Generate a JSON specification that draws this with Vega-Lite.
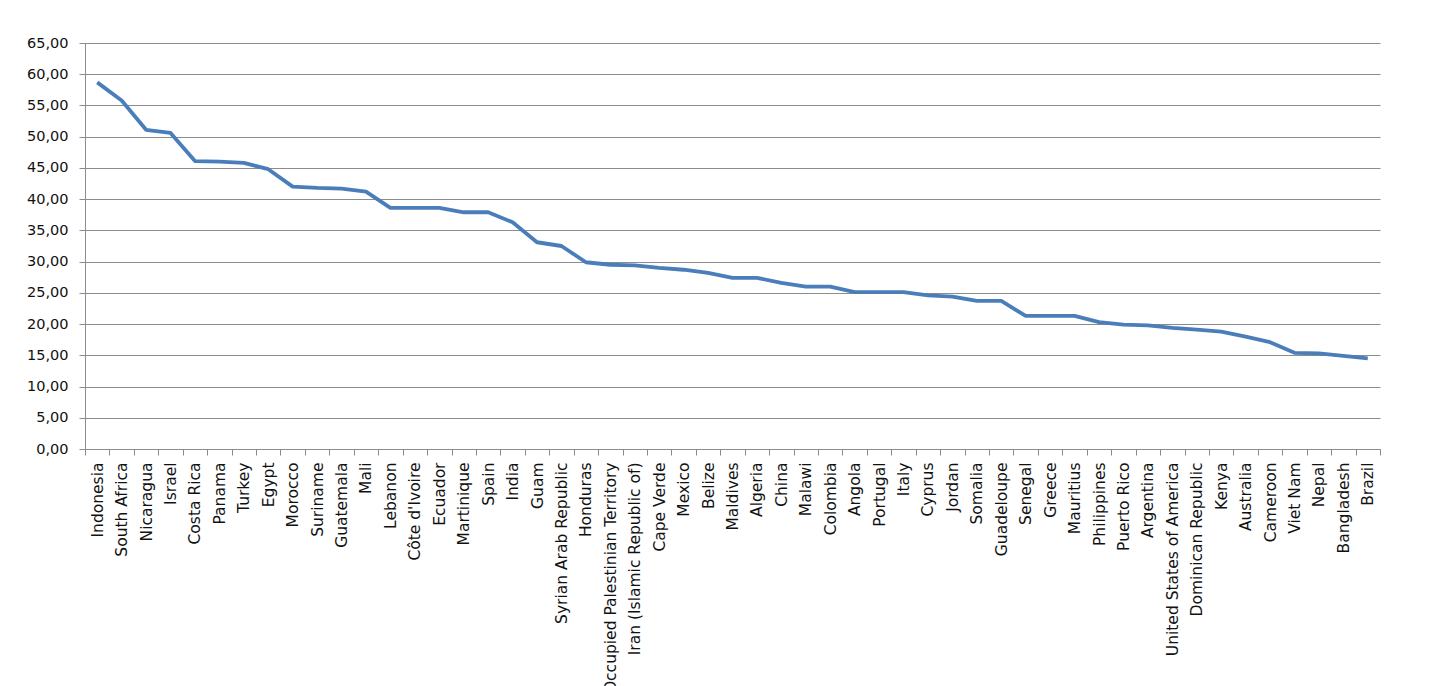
{
  "$schema": "https://vega.github.io/schema/vega-lite/v6.json",
  "autosize": "none",
  "padding": {"left": 85, "top": 43, "right": 58, "bottom": 237},
  "width": 1295,
  "height": 406,
  "background": "white",
  "data": {
    "values": [
      {"country": "Indonesia", "value": 58.7},
      {"country": "South Africa", "value": 55.8},
      {"country": "Nicaragua", "value": 51.1},
      {"country": "Israel", "value": 50.6},
      {"country": "Costa Rica", "value": 46.1},
      {"country": "Panama", "value": 46.0},
      {"country": "Turkey", "value": 45.8},
      {"country": "Egypt", "value": 44.8},
      {"country": "Morocco", "value": 42.0},
      {"country": "Suriname", "value": 41.8},
      {"country": "Guatemala", "value": 41.7},
      {"country": "Mali", "value": 41.2},
      {"country": "Lebanon", "value": 38.6},
      {"country": "Côte d'Ivoire", "value": 38.6},
      {"country": "Ecuador", "value": 38.6},
      {"country": "Martinique", "value": 37.9},
      {"country": "Spain", "value": 37.9},
      {"country": "India", "value": 36.3},
      {"country": "Guam", "value": 33.1},
      {"country": "Syrian Arab Republic", "value": 32.5},
      {"country": "Honduras", "value": 29.9},
      {"country": "Occupied Palestinian Territory", "value": 29.5},
      {"country": "Iran (Islamic Republic of)", "value": 29.4},
      {"country": "Cape Verde", "value": 29.0},
      {"country": "Mexico", "value": 28.7},
      {"country": "Belize", "value": 28.2},
      {"country": "Maldives", "value": 27.4},
      {"country": "Algeria", "value": 27.4},
      {"country": "China", "value": 26.6},
      {"country": "Malawi", "value": 26.0},
      {"country": "Colombia", "value": 26.0},
      {"country": "Angola", "value": 25.1},
      {"country": "Portugal", "value": 25.1},
      {"country": "Italy", "value": 25.1},
      {"country": "Cyprus", "value": 24.6},
      {"country": "Jordan", "value": 24.4},
      {"country": "Somalia", "value": 23.7},
      {"country": "Guadeloupe", "value": 23.7},
      {"country": "Senegal", "value": 21.3},
      {"country": "Greece", "value": 21.3},
      {"country": "Mauritius", "value": 21.3},
      {"country": "Philippines", "value": 20.3},
      {"country": "Puerto Rico", "value": 19.9},
      {"country": "Argentina", "value": 19.8},
      {"country": "United States of America", "value": 19.4},
      {"country": "Dominican Republic", "value": 19.1},
      {"country": "Kenya", "value": 18.8},
      {"country": "Australia", "value": 18.0},
      {"country": "Cameroon", "value": 17.1},
      {"country": "Viet Nam", "value": 15.4},
      {"country": "Nepal", "value": 15.3},
      {"country": "Bangladesh", "value": 14.9},
      {"country": "Brazil", "value": 14.5}
    ]
  },
  "mark": {"type": "line", "color": "#4a7ebb", "strokeWidth": 3.8, "strokeJoin": "round"},
  "encoding": {
    "x": {
      "field": "country",
      "type": "nominal",
      "sort": null,
      "bandPosition": 0.5,
      "scale": {"type": "band", "paddingInner": 0, "paddingOuter": 0},
      "axis": {
        "title": null,
        "labelAngle": -90,
        "labelPadding": 7,
        "labelFontSize": 15.5,
        "tickBand": "extent",
        "tickSize": 6,
        "tickColor": "#8c8c8c",
        "domainColor": "#8c8c8c",
        "grid": false,
        "labelLimit": 300
      }
    },
    "y": {
      "field": "value",
      "type": "quantitative",
      "scale": {"domain": [0, 65], "nice": false},
      "axis": {
        "title": null,
        "values": [0, 5, 10, 15, 20, 25, 30, 35, 40, 45, 50, 55, 60, 65],
        "labelExpr": "replace(format(datum.value, '.2f'), '.', ',')",
        "labelFontSize": 14.5,
        "tickSize": 6,
        "labelPadding": 11,
        "tickColor": "#8c8c8c",
        "domainColor": "#8c8c8c",
        "gridColor": "#8c8c8c",
        "gridOpacity": 1
      }
    }
  },
  "config": {
    "view": {"stroke": null},
    "axis": {
      "labelFont": "DejaVu Sans",
      "labelColor": "#111111",
      "domainWidth": 1,
      "tickWidth": 1,
      "gridWidth": 1
    }
  }
}
